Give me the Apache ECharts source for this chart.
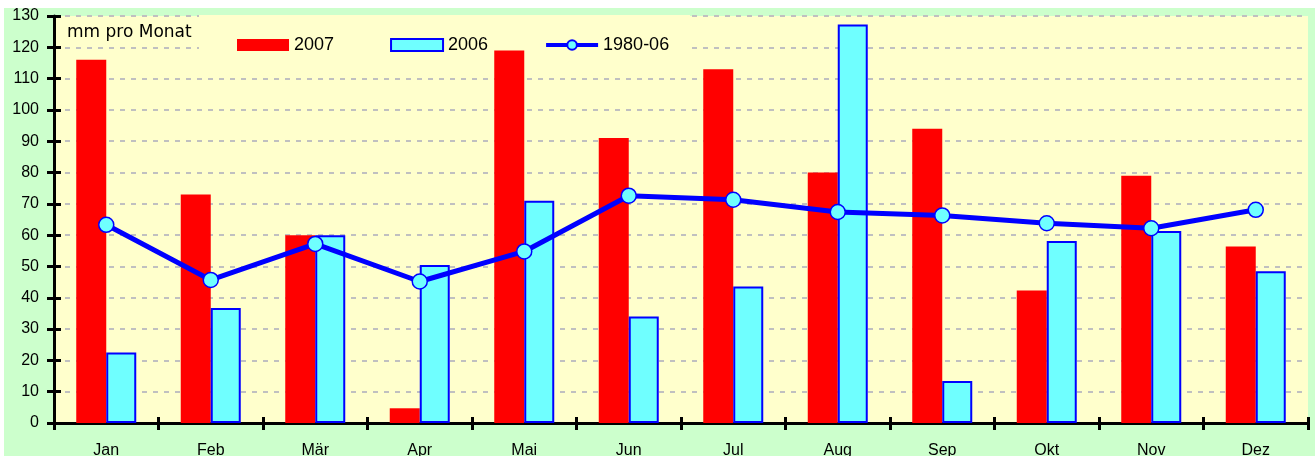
<!DOCTYPE html>
<html>
<head>
<meta charset="utf-8">
<script src="https://cdn.jsdelivr.net/npm/echarts@6/dist/echarts.min.js"></script>
<style>
  html, body { margin: 0; padding: 0; background: #fff; }
  #main { width: 1315px; height: 456px; }
</style>
</head>
<body>
<div id="main"></div>
<script>
// Niederschlag, mm pro Monat
var months = ['Jan', 'Feb', 'Mär', 'Apr', 'Mai', 'Jun', 'Jul', 'Aug', 'Sep', 'Okt', 'Nov', 'Dez'];
var rain2007 = [116, 73, 60, 4.7, 119, 91, 113, 80, 94, 42.3, 79, 56.4];
var rain2006 = [22.5, 36.7, 60, 50.5, 71, 34, 43.6, 127.3, 13.4, 58.1, 61.3, 48.5];
var mean8006 = [63.3, 45.7, 57.2, 45.2, 54.8, 72.6, 71.3, 67.4, 66.3, 63.8, 62.2, 68.1];
var yTicks = { min: 0, max: 130, interval: 10 };

var font = '"Liberation Sans", Arial, sans-serif';
var chart = echarts.init(document.getElementById('main'));

chart.setOption({
    backgroundColor: '#ccffcc',
    animation: false,
    textStyle: { fontFamily: font },
    grid: {
        left: 54, right: 7, top: 16, bottom: 33,
        outerBoundsMode: 'none', containLabel: false,
        show: true, backgroundColor: '#ffffcc', borderWidth: 0
    },
    graphic: [
        { type: 'rect', left: 0, top: 0, shape: { width: 1315, height: 8 }, style: { fill: '#fff' }, silent: true },
        { type: 'rect', left: 0, top: 0, shape: { width: 4, height: 456 }, style: { fill: '#fff' }, silent: true },
        // Legendenfeld verdeckt die Gitterlinien
        { type: 'rect', left: 199, top: 15, z: 1, shape: { width: 491, height: 36 }, style: { fill: '#ffffcc' }, silent: true },
        { type: 'text', left: 67, top: 24, z: 10, style: { text: 'mm pro Monat', font: '17px "DejaVu Sans", sans-serif', fill: '#000' } }
    ],
    legend: {
        left: 232, top: 31,
        itemWidth: 52, itemHeight: 12, itemGap: 56,
        textStyle: { fontSize: 18, color: '#000' },
        data: [
            { name: '2007', icon: 'rect' },
            { name: '2006', icon: 'rect' },
            { name: '1980-06', lineStyle: { width: 4 } }
        ]
    },
    xAxis: [{
        type: 'category', data: months,
        axisLine: { lineStyle: { color: '#000', width: 3 } },
        axisTick: { show: true, length: 7, lineStyle: { color: '#000', width: 3 } },
        axisLabel: { color: '#000', fontSize: 16, margin: 20 }
    }, {
        type: 'category', data: months, position: 'bottom',
        axisLine: { show: false },
        axisTick: { show: true, inside: true, length: 6, lineStyle: { color: '#000', width: 3 } },
        axisLabel: { show: false }
    }],
    yAxis: [{
        type: 'value', min: yTicks.min, max: yTicks.max, interval: yTicks.interval,
        axisLine: { show: true, lineStyle: { color: '#000', width: 3 } },
        axisTick: { show: true, length: 7, lineStyle: { color: '#000', width: 3 } },
        axisLabel: { color: '#000', fontSize: 16, margin: 15 },
        splitLine: { show: true, lineStyle: { color: '#c0c0c0', width: 2, type: [5, 6] } }
    }, {
        type: 'value', position: 'left', min: yTicks.min, max: yTicks.max, interval: yTicks.interval,
        axisLine: { show: false },
        axisTick: { show: true, inside: true, length: 7, lineStyle: { color: '#000', width: 3 } },
        axisLabel: { show: false },
        splitLine: { show: false }
    }],
    series: [{
        name: '2007', type: 'bar', data: rain2007,
        barWidth: 30, barGap: '0%',
        itemStyle: { color: '#ff0000' }
    }, {
        name: '2006', type: 'bar', data: rain2006,
        barWidth: 30, barGap: '0%',
        itemStyle: { color: '#6fffff', borderColor: '#0000ff', borderWidth: 2 }
    }, {
        name: '1980-06', type: 'line', data: mean8006, z: 5,
        symbol: 'circle', symbolSize: 15,
        lineStyle: { color: '#0000ff', width: 5 },
        itemStyle: { color: '#6fffff', borderColor: '#0000ff', borderWidth: 1.5 }
    }]
});
</script>
</body>
</html>
